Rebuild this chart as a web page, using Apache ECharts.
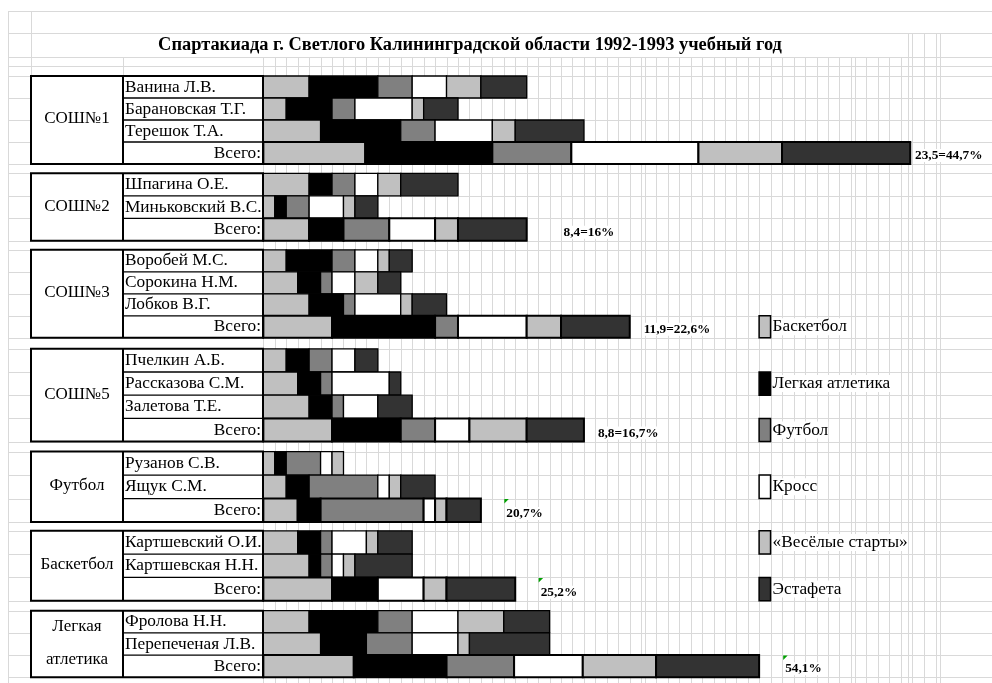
<!DOCTYPE html>
<html>
<head>
<meta charset="utf-8">
<title>Спартакиада г. Светлого</title>
<script src="https://cdn.jsdelivr.net/npm/echarts@6/dist/echarts.min.js"></script>
<style>
  html, body { margin: 0; padding: 0; background: #fff; }
  #chart { width: 992px; height: 683px; }
</style>
</head>
<body>
<div id="chart"></div>
<script>
  // данные: очки в клетках листа, порядок видов как в легенде
  const groups = ['СОШ№1', 'СОШ№2', 'СОШ№3', 'СОШ№5', 'Футбол', 'Баскетбол', 'Легкая\nатлетика']
  const sports = ['Баскетбол', 'Легкая атлетика', 'Футбол', 'Кросс', '«Весёлые старты»', 'Эстафета']
  const people = [
    ['Ванина Л.В.', 'Барановская Т.Г.', 'Терешок Т.А.'],
    ['Шпагина О.Е.', 'Миньковский В.С.'],
    ['Воробей М.С.', 'Сорокина Н.М.', 'Лобков В.Г.'],
    ['Пчелкин А.Б.', 'Рассказова С.М.', 'Залетова Т.Е.'],
    ['Рузанов С.В.', 'Ящук С.М.'],
    ['Картшевский О.И.', 'Картшевская Н.Н.'],
    ['Фролова Н.Н.', 'Перепеченая Л.В.']
  ]
  const scores = [
    [[4, 6, 3, 3, 3, 4], [2, 4, 2, 5, 1, 3], [5, 7, 3, 5, 2, 6]],
    [[4, 2, 2, 2, 2, 5], [1, 1, 2, 3, 1, 2]],
    [[2, 4, 2, 2, 1, 2], [3, 2, 1, 2, 2, 2], [4, 3, 1, 4, 1, 3]],
    [[2, 2, 2, 2, 0, 2], [3, 2, 1, 5, 0, 1], [4, 2, 1, 3, 0, 3]],
    [[1, 1, 3, 1, 1, 0], [2, 2, 6, 1, 1, 3]],
    [[3, 2, 1, 3, 1, 3], [4, 1, 1, 1, 1, 5]],
    [[4, 6, 3, 4, 4, 4], [5, 4, 4, 4, 1, 7]]
  ]
  const totals = [
    [8.9, 11.1, 6.9, 11.1, 7.3, 11.2],
    [4, 3, 4, 4, 2, 6],
    [6, 9, 2, 6, 3, 6],
    [6, 6, 3, 3, 5, 5],
    [3, 2, 9, 1, 1, 3],
    [6, 4, 0, 4, 2, 6],
    [7.9, 8.1, 5.9, 6, 6.4, 9]
  ]
  const notes = ['23,5=44,7%', '8,4=16%', '11,9=22,6%', '8,8=16,7%', '20,7%', '25,2%', '54,1%']

  // оформление листа
  const COLORS = ['#c0c0c0', '#000000', '#808080', '#ffffff', '#c0c0c0', '#333333']
  const FONT = '"Liberation Serif", "Times New Roman", serif'
  const TEXT_SIZE = 17.3
  const GRID_COLOR = '#d9d9d9'
  const TABLE_X = [31, 123, 263]
  const TABLE_TOP = 76
  const ROW_H = [22, 22.5, 22, 23.2, 23.5, 23.3, 22.2]
  const GAP_H = [9.3, 9, 11, 10, 8.7, 10]
  const NOTE_COL = [56.7, 26, 33, 29, 21, 24, 45.36]
  const NOTE_MARK = [false, false, false, false, true, true, true]
  const LEGEND_COL = 43.3
  const LEGEND_ROW = [10, 12, 14, 16, 18, 20]
  const SHEET_COLS = [].concat(Array(33).fill(1), [0.32], Array(18).fill(1), [0.35, 1, 1, 1, 1, 0.65, 0.35, 1.07, 1, 0.35])

  // строки таблицы
  const rows = []
  let rowTop = TABLE_TOP
  groups.forEach((g, gi) => {
    if (gi > 0) rowTop += GAP_H[gi - 1]
    const names = people[gi].concat('Всего:')
    const vals = scores[gi].concat([totals[gi]])
    names.forEach((name, ri) => {
      rows.push({ gi, name, vals: vals[ri], total: ri === names.length - 1, top: rowTop, bottom: rowTop + ROW_H[gi] })
      rowTop += ROW_H[gi]
    })
  })

  const segments = []
  rows.forEach((r) => {
    let x = 0
    r.vals.forEach((v, si) => {
      if (v > 0) segments.push([x, x + v, r.top, r.bottom, si, r.total ? 1 : 0])
      x += v
    })
  })

  function hline (x1, x2, y, color, w) {
    return { type: 'line', shape: { x1, y1: y, x2, y2: y }, style: { stroke: color, lineWidth: w } }
  }
  function vline (x, y1, y2, color, w) {
    return { type: 'line', shape: { x1: x, y1, x2: x, y2 }, style: { stroke: color, lineWidth: w } }
  }

  function renderSheet (params, api) {
    const lines = []
    const hs = [11, 33, 57, 66, 76]
    rows.forEach((r) => hs.push(r.top, r.bottom))
    hs.forEach((y) => lines.push(hline(8, 992, Math.round(api.coord([0, y])[1]) + 0.5, GRID_COLOR, 1)))
    lines.push(vline(8.5, 11, 683, GRID_COLOR, 1))
    lines.push(vline(31.5, 11, 76, GRID_COLOR, 1))
    lines.push(vline(123.5, 57, 76, GRID_COLOR, 1))
    let c = 0
    ;[0].concat(SHEET_COLS).forEach((w) => {
      c += w
      const px = Math.round(api.coord([c, 0])[0]) + 0.5
      lines.push(vline(px, px > 905 ? 33 : 57, 683, GRID_COLOR, 1))
    })
    return { type: 'group', children: lines }
  }

  function renderTable (params, api) {
    const gi = params.dataIndex
    const gr = rows.filter((r) => r.gi === gi)
    const y0 = api.coord([0, gr[0].top])[1]
    const y1 = api.coord([0, gr[gr.length - 1].bottom])[1]
    const [xa, xb, xc] = TABLE_X
    const children = [
      { type: 'rect', shape: { x: xa, y: y0, width: xc - xa, height: y1 - y0 }, style: { fill: '#fff' } },
      {
        type: 'text',
        style: {
          text: groups[gi], x: (xa + xb) / 2, y: (y0 + y1) / 2 - 1, align: 'center', verticalAlign: 'middle',
          fontSize: 17, fontFamily: FONT, lineHeight: 33, fill: '#000'
        }
      }
    ]
    gr.forEach((r, i) => {
      const ty = api.coord([0, r.top])[1]
      const by = api.coord([0, r.bottom])[1]
      if (i > 0) children.push(hline(xb, xc, ty, '#000', 1.3))
      children.push({
        type: 'text',
        style: {
          text: r.name, x: r.total ? xc - 2 : xb + 2, y: (ty + by) / 2, align: r.total ? 'right' : 'left',
          verticalAlign: 'middle', fontSize: TEXT_SIZE, fontFamily: FONT, fill: '#000'
        }
      })
    })
    children.push({ type: 'rect', shape: { x: xa, y: y0, width: xc - xa, height: y1 - y0 }, style: { fill: 'none', stroke: '#000', lineWidth: 2 } })
    children.push(vline(xb, y0, y1, '#000', 2))
    return { type: 'group', children }
  }

  function renderBar (params, api) {
    const p0 = api.coord([api.value(0), api.value(2)])
    const p1 = api.coord([api.value(1), api.value(3)])
    return {
      type: 'rect',
      shape: { x: p0[0], y: p0[1], width: p1[0] - p0[0], height: p1[1] - p0[1] },
      style: { fill: COLORS[api.value(4)], stroke: '#000', lineWidth: api.value(5) ? 2 : 1.3 }
    }
  }

  function renderNote (params, api) {
    const gi = params.dataIndex
    const r = rows.filter((row) => row.gi === gi && row.total)[0]
    const p = api.coord([NOTE_COL[gi], r.top])
    const by = api.coord([0, r.bottom])[1]
    const children = [{
      type: 'text',
      style: {
        text: notes[gi], x: p[0] + 2.5, y: by - 8.5, verticalAlign: 'middle',
        fontSize: 13.3, fontWeight: 'bold', fontFamily: FONT, fill: '#000', backgroundColor: '#fff'
      }
    }]
    if (NOTE_MARK[gi]) {
      children.push({
        type: 'polygon',
        shape: { points: [[p[0] + 0.5, p[1] + 0.5], [p[0] + 5, p[1] + 0.5], [p[0] + 0.5, p[1] + 5]] },
        style: { fill: '#00a000' }
      })
    }
    return { type: 'group', children }
  }

  function renderLegend (params, api) {
    const si = params.dataIndex
    const r = rows[LEGEND_ROW[si]]
    const p0 = api.coord([LEGEND_COL, r.top])
    const p1 = api.coord([LEGEND_COL + 1, r.bottom])
    return {
      type: 'group',
      children: [
        { type: 'rect', shape: { x: p0[0], y: p0[1], width: p1[0] - p0[0], height: p1[1] - p0[1] }, style: { fill: COLORS[si], stroke: '#000', lineWidth: 1.5 } },
        {
          type: 'text',
          style: {
            text: sports[si], x: p1[0] + 2, y: (p0[1] + p1[1]) / 2, verticalAlign: 'middle',
            fontSize: TEXT_SIZE, fontFamily: FONT, fill: '#000', backgroundColor: '#fff'
          }
        }
      ]
    }
  }

  const chart = echarts.init(document.getElementById('chart'))
  chart.setOption({
    animation: false,
    backgroundColor: '#fff',
    title: {
      text: 'Спартакиада г. Светлого Калининградской области 1992-1993 учебный год',
      left: 470,
      top: 36,
      padding: 0,
      textAlign: 'center',
      textStyle: { fontFamily: FONT, fontSize: 18.4, fontWeight: 'bold', color: '#000' }
    },
    grid: { left: 0, right: 0, top: 0, bottom: 0 },
    xAxis: { type: 'value', min: -23, max: 63.64, show: false },
    yAxis: { type: 'value', min: 0, max: 683, inverse: true, show: false },
    series: [
      { type: 'custom', name: 'sheet', data: [[0, 0]], renderItem: renderSheet, silent: true, z: 1 },
      { type: 'custom', name: 'table', data: groups.map((g, i) => [i, 0]), renderItem: renderTable, silent: true, z: 2 },
      { type: 'custom', name: 'bars', data: segments, renderItem: renderBar, encode: { x: [0, 1], y: [2, 3] }, z: 3 },
      { type: 'custom', name: 'notes', data: notes.map((n, i) => [i, 0]), renderItem: renderNote, silent: true, z: 4 },
      { type: 'custom', name: 'legend', data: sports.map((s, i) => [i, 0]), renderItem: renderLegend, silent: true, z: 4 }
    ]
  })
</script>
</body>
</html>
